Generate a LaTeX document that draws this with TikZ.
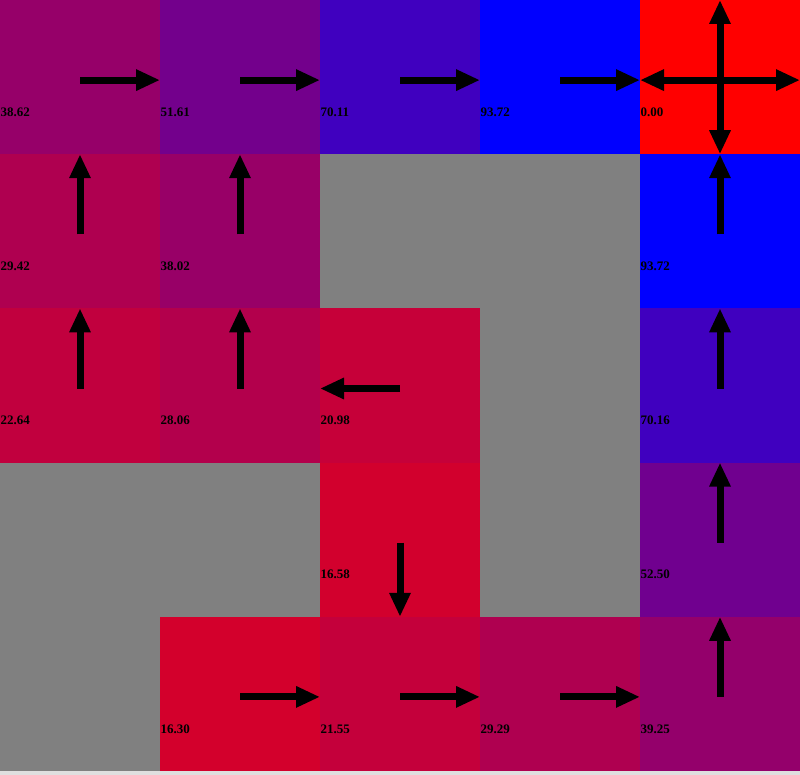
\documentclass[tikz,border=0pt]{standalone}
\usepackage{fontspec}
\setmainfont{Liberation Serif}
\usetikzlibrary{arrows.meta}

\tikzset{
  cell/.style={minimum width=160pt,minimum height=154.2pt,inner sep=0pt,outer sep=0pt},
  lab/.style={anchor=west,inner sep=0pt,font=\fontsize{13}{13}\selectfont\bfseries},
  act/.style={line width=7pt,-{Triangle[width=20pt,length=24pt]}}
}

\begin{document}
\begin{tikzpicture}[x=1pt,y=1pt]
\useasboundingbox (0,0) rectangle (800,-775);
\fill[gray!25] (0,0) rectangle (800,-775);
% states with values, colour goes from red (0) to blue (93.72)
\foreach \row/\col/\val in {0/0/38.62,0/1/51.61,0/2/70.11,0/3/93.72,0/4/0.00,
    1/0/29.42,1/1/38.02,1/4/93.72,
    2/0/22.64,2/1/28.06,2/2/20.98,2/4/70.16,
    3/2/16.58,3/4/52.50,
    4/1/16.30,4/2/21.55,4/3/29.29,4/4/39.25} {
  \pgfmathsetmacro\pct{100-100*\val/93.72}
  \node[cell,fill=red!\pct!blue] (cell-\row-\col) at ({160*\col+80},{-154.2*\row-77.1}) {};
  \node[lab] (lab-\row-\col) at ([xshift=0.5pt,yshift=-35pt]cell-\row-\col.west) {\val};
}
% walls
\foreach \row/\col in {1/2,1/3,2/3,3/0,3/1,3/3,4/0}
  \node[cell,fill=gray] (cell-\row-\col) at ({160*\col+80},{-154.2*\row-77.1}) {};
% policy
\foreach \row/\col/\dir in {0/0/east,0/1/east,0/2/east,0/3/east,0/4/east,0/4/west,
    2/2/west,4/1/east,4/2/east,4/3/east}
  \draw[act] ([yshift=-3pt]cell-\row-\col.center) -- ([yshift=-3pt]cell-\row-\col.\dir);
\foreach \row/\col/\dir in {0/4/north,0/4/south,1/0/north,1/1/north,1/4/north,
    2/0/north,2/1/north,2/4/north,3/2/south,3/4/north,4/4/north}
  \draw[act] ([yshift=-3pt]cell-\row-\col.center) -- (cell-\row-\col.\dir);
\end{tikzpicture}
\end{document}
